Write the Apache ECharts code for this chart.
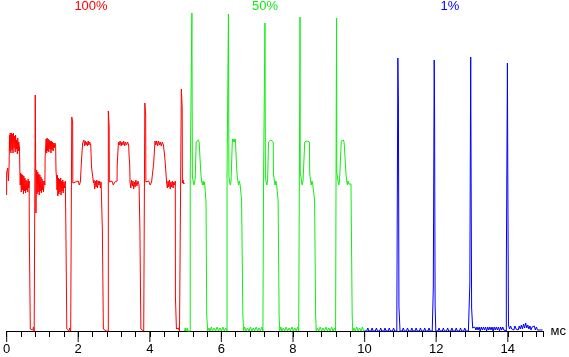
<!DOCTYPE html>
<html><head><meta charset="utf-8">
<script src="https://cdn.jsdelivr.net/npm/echarts@6/dist/echarts.min.js"></script>
<style>html,body{margin:0;padding:0;background:#fff}#c{width:569px;height:357px}</style>
</head><body><div id="c"></div>
<script>
// x in ms, y in trace amplitude units (0 = baseline)
const seriesNames = ['100%', '50%', '1%'];
const majorTicks = [0, 2, 4, 6, 8, 10, 12, 14];

const red100 = [
[0,136],[0,158],[0.03,163],[0.05,150],[0.07,166],[0.08,196],[0.09,180],[0.1,198],[0.12,178],[0.13,198],[0.15,181],[0.16,197],[0.18,178],[0.19,198],[0.21,183],[0.22,195],[0.24,179],[0.25,196],[0.27,182],[0.28,191],[0.3,177],[0.31,193],[0.33,180],[0.34,189],[0.36,183],[0.37,160],[0.38,146],[0.39,158],[0.41,139],[0.42,157],[0.44,141],[0.45,156],[0.47,137],[0.48,155],[0.5,140],[0.51,153],[0.53,138],[0.54,151],[0.56,141],[0.57,150],[0.59,139],[0.6,152],[0.62,143],[0.63,150],[0.634,101],[0.66,101],[0.662,2],[0.69,0],[0.71,4],[0.73,1],[0.75,4],[0.77,0],[0.8,0],[0.8,236],[0.815,236],[0.82,118],[0.83,150],[0.84,161],[0.85,137],[0.87,159],[0.88,139],[0.9,157],[0.91,136],[0.93,156],[0.94,140],[0.96,154],[0.97,138],[0.99,152],[1.0,141],[1.02,150],[1.03,139],[1.05,150],[1.07,146],[1.076,174],[1.1,174],[1.103,192],[1.12,178],[1.13,193],[1.15,180],[1.16,192],[1.18,179],[1.19,191],[1.21,182],[1.22,190],[1.24,178],[1.25,190],[1.27,181],[1.28,189],[1.3,180],[1.31,188],[1.33,183],[1.35,188],[1.37,185],[1.38,160],[1.4,151],[1.407,141],[1.42,156],[1.43,135],[1.45,153],[1.46,137],[1.48,152],[1.49,139],[1.51,153],[1.52,136],[1.54,150],[1.55,140],[1.57,151],[1.58,138],[1.6,149],[1.62,143],[1.64,150],[1.655,104],[1.68,104],[1.682,2],[1.7,0],[1.72,3],[1.74,0],[1.76,3],[1.79,0],[1.82,0],[1.82,214],[1.84,214],[1.845,209],[1.85,148],[1.87,150],[1.9,146],[1.93,149],[1.96,147],[2.0,150],[2.03,146],[2.06,149],[2.09,151],[2.096,173],[2.12,173],[2.124,188],[2.14,186],[2.16,191],[2.18,185],[2.2,190],[2.22,186],[2.24,189],[2.26,185],[2.28,190],[2.3,186],[2.32,189],[2.35,186],[2.37,187],[2.372,164],[2.42,164],[2.427,148],[2.44,151],[2.46,142],[2.48,150],[2.5,144],[2.52,151],[2.54,143],[2.56,150],[2.58,146],[2.6,150],[2.62,143],[2.64,149],[2.67,147],[2.675,101],[2.7,101],[2.703,2],[2.73,0],[2.75,3],[2.78,0],[2.81,2],[2.841,0],[2.841,220],[2.86,220],[2.865,204],[2.87,149],[2.9,147],[2.94,150],[2.98,146],[3.02,149],[3.06,147],[3.085,150],[3.089,166],[3.12,166],[3.125,189],[3.15,186],[3.17,190],[3.2,185],[3.22,189],[3.25,186],[3.27,190],[3.3,185],[3.32,189],[3.35,186],[3.38,189],[3.41,186],[3.42,176],[3.44,165],[3.447,149],[3.47,143],[3.49,151],[3.51,145],[3.53,150],[3.55,142],[3.57,149],[3.59,144],[3.61,151],[3.64,145],[3.67,150],[3.7,146],[3.72,148],[3.723,104],[3.75,104],[3.751,2],[3.78,0],[3.8,3],[3.83,0],[3.861,0],[3.861,228],[3.88,228],[3.885,216],[3.89,149],[3.93,147],[3.97,150],[4.01,146],[4.05,149],[4.08,147],[4.105,150],[4.109,168],[4.14,168],[4.145,190],[4.17,186],[4.19,190],[4.22,185],[4.24,190],[4.27,186],[4.29,189],[4.32,185],[4.35,189],[4.38,186],[4.41,188],[4.413,176],[4.44,164],[4.468,149],[4.49,143],[4.51,150],[4.53,144],[4.55,151],[4.57,142],[4.59,149],[4.61,144],[4.63,150],[4.65,143],[4.67,149],[4.7,146],[4.712,150],[4.716,34],[4.74,34],[4.744,2],[4.77,0],[4.8,3],[4.83,0],[4.85,2],[4.881,0],[4.881,242],[4.9,242],[4.905,223],[4.91,148],[4.93,151],[4.95,147],[4.964,148]
];

const green50 = [
[4.97,0],[4.99,3],[5.0,0],[5.03,0],[5.05,3],[5.06,0],[5.1,0],[5.13,0],[5.13,158],[5.17,158],[5.176,318],[5.185,318],[5.19,154],[5.21,150],[5.23,146],[5.25,149],[5.27,153],[5.29,151],[5.295,189],[5.32,191],[5.34,188],[5.36,191],[5.38,188],[5.4,190],[5.42,189],[5.425,158],[5.44,158],[5.447,150],[5.47,146],[5.49,150],[5.51,146],[5.53,149],[5.55,147],[5.565,150],[5.571,129],[5.59,129],[5.59,16],[5.618,16],[5.618,0],[5.65,3],[5.68,0],[5.72,4],[5.75,0],[5.8,3],[5.84,0],[5.88,4],[5.92,0],[5.96,3],[6.0,0],[6.04,4],[6.08,0],[6.12,3],[6.158,0],
[6.158,158],[6.19,158],[6.197,317],[6.205,317],[6.21,155],[6.23,149],[6.25,146],[6.27,150],[6.29,152],[6.305,150],[6.307,192],[6.33,189],[6.35,192],[6.37,189],[6.39,192],[6.41,190],[6.43,191],[6.434,158],[6.45,158],[6.46,150],[6.48,146],[6.5,150],[6.52,147],[6.54,149],[6.56,147],[6.564,131],[6.6,131],[6.6,16],[6.62,16],[6.62,0],[6.65,4],[6.69,0],[6.73,3],[6.77,0],[6.81,4],[6.85,0],[6.89,3],[6.93,0],[6.97,4],[7.01,0],[7.05,3],[7.09,0],[7.13,4],[7.16,0],[7.179,0],
[7.179,158],[7.21,158],[7.217,308],[7.225,308],[7.23,154],[7.25,149],[7.27,146],[7.29,150],[7.31,152],[7.317,189],[7.34,191],[7.36,188],[7.38,191],[7.4,189],[7.42,190],[7.45,189],[7.454,158],[7.47,158],[7.48,150],[7.5,146],[7.52,150],[7.54,147],[7.56,149],[7.58,147],[7.584,131],[7.612,131],[7.612,16],[7.63,16],[7.63,0],[7.66,4],[7.69,0],[7.73,3],[7.77,0],[7.81,4],[7.85,0],[7.89,3],[7.93,0],[7.97,4],[8.01,0],[8.05,3],[8.09,0],[8.13,4],[8.16,0],[8.19,0],
[8.19,253],[8.197,253],[8.197,314],[8.203,314],[8.203,158],[8.22,155],[8.24,149],[8.26,146],[8.28,150],[8.3,152],[8.325,150],[8.329,189],[8.35,191],[8.37,188],[8.39,190],[8.41,188],[8.44,190],[8.46,189],[8.467,158],[8.48,158],[8.49,150],[8.51,146],[8.53,150],[8.55,147],[8.57,149],[8.6,147],[8.604,131],[8.632,131],[8.632,16],[8.65,16],[8.65,0],[8.68,3],[8.72,0],[8.76,4],[8.8,0],[8.84,3],[8.88,0],[8.92,4],[8.96,0],[9.0,3],[9.04,0],[9.08,4],[9.12,0],[9.16,3],[9.19,0],[9.211,0],
[9.211,251],[9.218,251],[9.218,313],[9.224,313],[9.224,158],[9.24,155],[9.26,149],[9.28,146],[9.3,150],[9.32,152],[9.345,150],[9.349,190],[9.37,192],[9.39,189],[9.41,191],[9.43,188],[9.45,190],[9.475,189],[9.479,158],[9.49,158],[9.5,150],[9.52,146],[9.54,150],[9.56,147],[9.58,149],[9.62,147],[9.625,129],[9.653,129],[9.653,16],[9.67,16],[9.67,0],[9.7,3],[9.74,0],[9.78,4],[9.82,0],[9.86,3],[9.9,0],[9.94,4],[9.97,0],[10.0,1]
];

const blue1 = [
[10.0,0],[10.03,2],[10.06,0],[10.09,3],[10.12,0],[10.15,2],[10.18,0],[10.21,3],[10.24,0],[10.27,2],[10.3,0],[10.33,3],[10.36,0],[10.39,2],[10.42,0],[10.45,3],[10.48,0],[10.51,2],[10.54,0],[10.57,3],[10.6,0],[10.63,2],[10.66,0],[10.69,3],[10.72,0],[10.75,2],[10.78,0],[10.81,3],[10.84,0],[10.87,2],[10.9,0],[10.93,0],[10.93,273],[10.94,273],[10.945,229],[10.96,229],[10.96,24],[10.99,24],[10.99,0],
[11.02,2],[11.05,0],[11.08,3],[11.11,0],[11.14,2],[11.17,0],[11.2,3],[11.23,0],[11.26,2],[11.29,0],[11.32,3],[11.35,0],[11.38,2],[11.41,0],[11.44,3],[11.47,0],[11.5,2],[11.53,0],[11.56,3],[11.59,0],[11.62,2],[11.65,0],[11.68,3],[11.71,0],[11.74,2],[11.77,0],[11.8,3],[11.83,0],[11.86,2],[11.89,0],[11.92,0],[11.92,43],[11.945,43],[11.945,271],[11.955,271],[11.955,225],[11.97,225],[11.97,26],[11.99,26],[11.99,0],
[12.02,2],[12.05,0],[12.08,3],[12.11,0],[12.14,2],[12.17,0],[12.2,3],[12.23,0],[12.26,2],[12.29,0],[12.32,3],[12.35,0],[12.38,2],[12.41,0],[12.44,3],[12.47,0],[12.5,2],[12.53,0],[12.56,3],[12.59,0],[12.62,2],[12.65,0],[12.68,3],[12.71,0],[12.74,2],[12.77,0],[12.8,3],[12.83,0],[12.86,2],[12.9,0],[12.94,0],[12.94,46],[12.965,46],[12.965,274],[12.975,274],[12.975,168],[12.99,168],[12.99,23],[13.02,23],[13.02,3],
[13.05,1],[13.08,4],[13.11,1],[13.14,4],[13.17,1],[13.2,4],[13.23,0],[13.26,4],[13.29,1],[13.32,4],[13.35,1],[13.38,4],[13.41,0],[13.44,4],[13.47,1],[13.5,4],[13.53,1],[13.56,4],[13.59,0],[13.62,4],[13.65,1],[13.68,4],[13.71,1],[13.74,4],[13.77,0],[13.8,4],[13.83,1],[13.86,4],[13.89,1],[13.92,3],[13.96,0],[13.96,61],[13.99,61],[13.99,268],[14.0,268],[14.0,163],[14.02,163],[14.02,6],[14.05,6],[14.05,2],
[14.08,5],[14.11,2],[14.14,4],[14.17,1],[14.2,5],[14.23,2],[14.26,4],[14.29,1],[14.32,5],[14.35,2],[14.38,6],[14.41,2],[14.44,7],[14.47,3],[14.5,8],[14.53,3],[14.56,6],[14.59,2],[14.62,5],[14.65,1],[14.68,4],[14.71,2],[14.74,5],[14.77,1],[14.8,4],[14.83,1],[14.86,3],[14.9,1],[14.94,3],[14.97,1]
];

const colors = ['#ff0000', '#11ee11', '#0000ff'];
const titleX = [91, 265, 450];

const chart = echarts.init(document.getElementById('c'), null, {renderer: 'canvas'});
const font = 'Liberation Sans, Arial, sans-serif';

const allSeries = [red100, green50, blue1].map((d, i) => ({
  name: seriesNames[i], type: 'line',
  data: d, showSymbol: false, symbol: 'none', clip: false,
  lineStyle: {color: colors[i], width: 1}, z: 5 + i
}));
// longer marks at the labelled (major) tick positions
allSeries.push({
  type: 'scatter', silent: true, clip: false, z: 1,
  data: majorTicks.map(v => [v, 0]),
  symbol: 'rect', symbolSize: [1.2, 11], symbolOffset: [0, 5.5],
  itemStyle: {color: '#000'}
});

chart.setOption({
  animation: false,
  backgroundColor: '#ffffff',
  grid: {left: 4, right: 21, top: 11, bottom: 26},
  xAxis: {
    type: 'value', min: 0, max: 15, interval: 0.4, position: 'bottom',
    axisLine: {show: true, onZero: false, lineStyle: {color: '#000', width: 1}},
    axisTick: {show: true, length: 6, lineStyle: {color: '#000', width: 1}},
    axisLabel: {customValues: majorTicks, fontSize: 13, color: '#000', margin: 12, fontFamily: font},
    splitLine: {show: false},
    name: 'мс', nameLocation: 'end', nameGap: 7,
    nameTextStyle: {fontSize: 13, color: '#000', fontFamily: font, verticalAlign: 'middle', align: 'left'}
  },
  yAxis: {type: 'value', min: 0, max: 320, show: false},
  graphic: seriesNames.map((t, i) => ({
    type: 'text', x: titleX[i], y: 6,
    style: {text: t, fill: colors[i], font: '13px ' + font, textAlign: 'center', textVerticalAlign: 'middle'}
  })),
  series: allSeries
});
</script>
</body></html>
